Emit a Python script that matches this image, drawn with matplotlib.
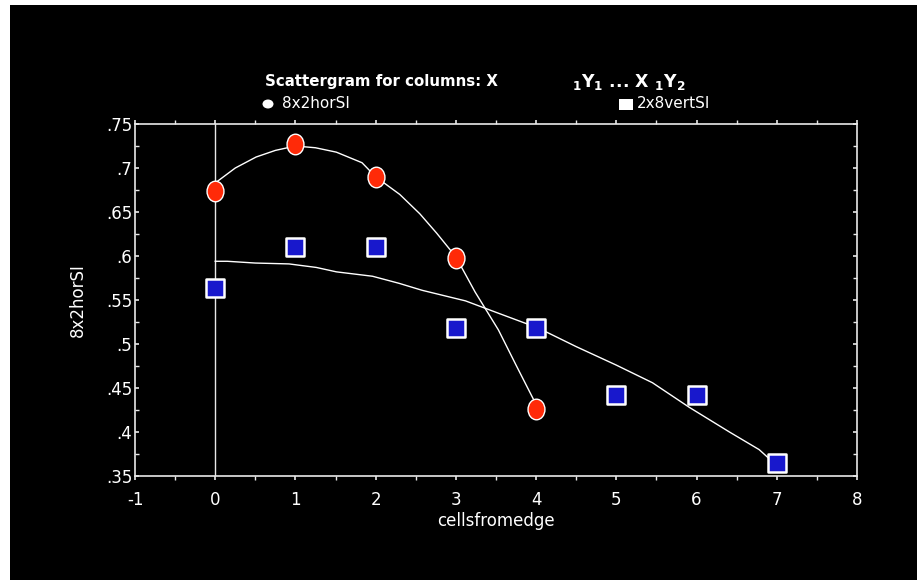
import matplotlib
matplotlib.use("Agg")
import matplotlib.pyplot as plt
from matplotlib.patches import Rectangle, Ellipse
from matplotlib.path import Path
from matplotlib.ticker import FuncFormatter, MultipleLocator

# scatter data
x_hor = [0, 1, 2, 3, 4]
y_hor = [0.674, 0.727, 0.690, 0.598, 0.426]
x_vert = [0, 1, 2, 3, 4, 5, 6, 7]
y_vert = [0.564, 0.610, 0.610, 0.518, 0.518, 0.442, 0.442, 0.365]

# smoothed fit lines
fit_hor_x = [0, 0.25, 0.51, 0.75, 1.0, 1.25, 1.51, 1.83, 2.0, 2.3, 2.55, 2.76, 3.0, 3.24, 3.53, 3.75, 3.99]
fit_hor_y = [0.683, 0.700, 0.7125, 0.720, 0.725, 0.723, 0.718, 0.706, 0.690, 0.670, 0.648, 0.626, 0.599, 0.559, 0.516, 0.476, 0.433]
fit_vert_x = [0, 0.15, 0.5, 0.92, 1.26, 1.51, 1.96, 2.29, 2.58, 3.12, 3.5, 4.03, 4.5, 5.0, 5.45, 5.91, 6.41, 6.78, 6.95]
fit_vert_y = [0.594, 0.594, 0.592, 0.591, 0.587, 0.582, 0.577, 0.569, 0.561, 0.549, 0.536, 0.518, 0.497, 0.476, 0.456, 0.428, 0.400, 0.380, 0.366]

xticks = [-1, 0, 1, 2, 3, 4, 5, 6, 7, 8]
yticks = [0.35, 0.4, 0.45, 0.5, 0.55, 0.6, 0.65, 0.7, 0.75]

plt.rcParams['font.family'] = ['DejaVu Sans']
plt.rcParams['axes.unicode_minus'] = False
fg = '#e8e8e8'

# slightly tall oval marker like the original
circ = Path.unit_circle()
oval = Path(circ.vertices * [0.82, 1.0], circ.codes)

fig = plt.figure(figsize=(9.2, 5.8), dpi=100)
fig.patch.set_facecolor('white')
fig.patches.append(Rectangle((10 / 920, 0), 907 / 920, 575 / 580,
                             transform=fig.transFigure, facecolor='black',
                             edgecolor='none', zorder=-5))

ax = fig.add_axes([135 / 920, 1 - 476 / 580, 722 / 920, 352 / 580])
ax.set_facecolor('black')
ax.set_xlim(-1, 8)
ax.set_ylim(0.35, 0.75)

for s in ax.spines.values():
    s.set_color(fg)
    s.set_linewidth(1.2)

ax.axvline(0, color=fg, lw=1.0, zorder=1)

ax.plot(fit_hor_x, fit_hor_y, color='white', lw=1.0, zorder=2)
ax.plot(fit_vert_x, fit_vert_y, color='white', lw=1.0, zorder=2)

ax.scatter(x_hor, y_hor, marker=oval, s=220, c='#ff2a08', edgecolors='white',
           linewidths=1.0, zorder=3)
ax.scatter(x_vert, y_vert, marker='s', s=175, c='#1818cc', edgecolors='white',
           linewidths=1.8, zorder=3)

ax.set_xticks(xticks)
ax.set_yticks(yticks)
ax.xaxis.set_minor_locator(MultipleLocator(0.5))
ax.yaxis.set_minor_locator(MultipleLocator(0.025))
ax.yaxis.set_major_formatter(FuncFormatter(lambda v, p: ('%g' % round(v, 3)).lstrip('0')))
ax.tick_params(axis='both', which='major', colors=fg, labelcolor='white',
               labelsize=12, length=6, width=1.2, direction='out')
ax.tick_params(axis='both', which='minor', colors=fg, length=4, width=1.0,
               direction='out')
ax.tick_params(top=True, right=True, which='both', direction='in')
ax.tick_params(top=True, right=True, which='major', length=3)
ax.tick_params(top=True, right=True, which='minor', length=3)
ax.tick_params(axis='x', which='both', bottom=True, direction='out')
ax.tick_params(axis='y', which='both', left=True)
for t in ax.xaxis.get_major_ticks():
    t.tick2line.set_markersize(3)
ax.tick_params(axis='x', pad=8)
ax.tick_params(axis='y', pad=2)

ax.set_xlabel('cellsfromedge', color='white', fontsize=12, labelpad=2)
ax.set_ylabel('8x2horSI', color='white', fontsize=12, labelpad=14)

# header and legend
fig.text(265 / 920, 1 - 82 / 580, 'Scattergram for columns: X', color='white',
         fontsize=10.8, fontweight='bold', va='center', ha='left')
fig.text(572 / 920, 1 - 82 / 580, r'$_\mathbf{1}$Y$_\mathbf{1}$ ... X $_\mathbf{1}$Y$_\mathbf{2}$',
         color='white', fontsize=12.5, fontweight='bold', va='center', ha='left')
fig.patches.append(Ellipse((268 / 920, 1 - 104 / 580), 11 / 920, 9 / 580,
                           transform=fig.transFigure, facecolor='white', zorder=3))
fig.text(282 / 920, 1 - 104 / 580, '8x2horSI', color='white', fontsize=11,
         va='center', ha='left')
fig.patches.append(Rectangle((619 / 920, 1 - 110 / 580), 14 / 920, 11 / 580,
                             transform=fig.transFigure, facecolor='white', zorder=3))
fig.text(637 / 920, 1 - 104 / 580, '2x8vertSI', color='white', fontsize=11,
         va='center', ha='left')

fig.savefig('out.png', dpi=100, facecolor=fig.get_facecolor())
